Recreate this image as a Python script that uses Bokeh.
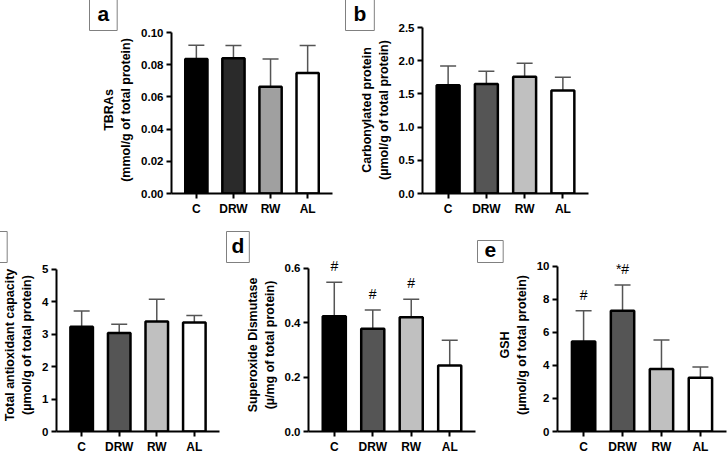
from bokeh.core.properties import value
from bokeh.embed import file_html
from bokeh.layouts import column, row
from bokeh.models import (ColumnDataSource, FactorRange, FixedTicker,
                          PrintfTickFormatter, Range1d, TeeHead, Title, Whisker)
from bokeh.plotting import figure
from bokeh.resources import INLINE

# ---- data -------------------------------------------------------------
groups = ["C", "DRW", "RW", "AL"]

tbars_mean = [0.0835, 0.0840, 0.0663, 0.0748]
tbars_sd = [0.0086, 0.0079, 0.0172, 0.0171]
tbars_ticks = [0.0, 0.02, 0.04, 0.06, 0.08, 0.10]

carb_mean = [1.63, 1.65, 1.76, 1.55]
carb_sd = [0.29, 0.19, 0.20, 0.20]
carb_ticks = [0.0, 0.5, 1.0, 1.5, 2.0, 2.5]

tac_mean = [3.23, 3.04, 3.39, 3.36]
tac_sd = [0.49, 0.27, 0.69, 0.22]
tac_ticks = [0, 1, 2, 3, 4, 5]

sod_mean = [0.424, 0.378, 0.420, 0.243]
sod_sd = [0.125, 0.069, 0.067, 0.093]
sod_ticks = [0.0, 0.2, 0.4, 0.6]
sod_marks = ["#", "#", "#", ""]

gsh_mean = [5.46, 7.32, 3.79, 3.25]
gsh_sd = [1.86, 1.55, 1.75, 0.66]
gsh_ticks = [0, 2, 4, 6, 8, 10]
gsh_marks = ["#", "*#", "", ""]

fills_tbars = ["#000000", "#2a2a2a", "#a0a0a0", "#ffffff"]
fills = ["#000000", "#555555", "#c0c0c0", "#ffffff"]

# ---- styling ----------------------------------------------------------
FONT = "Liberation Sans"
PAD = 0.17          # empty space (in category units) at both ends of the x axis
ERR = "#555555"
TITLE_SHIFT = 6     # the title band starts a few pixels right of the plot area


def panel(letter, ylabel, means, sds, ticks, fmt, colors, width, height,
          frame, top_px, box_left, pad_x=8, marks=None):
    """frame = (left, right, top, bottom) pixel edges of the plot area;
    top_px = pixel row where the highest tick should sit."""
    fl, fr, ft, fb = frame
    n = len(groups)
    # head-room above the top tick so the axis top lands on top_px
    y_end = ticks[-1] * (fb - ft) / (fb - top_px)
    p = figure(width=width, height=height,
               x_range=FactorRange(*groups, range_padding=2 * PAD / n),
               y_range=Range1d(0, y_end),
               min_border_left=fl, min_border_right=width - fr,
               min_border_top=ft, min_border_bottom=height - fb,
               output_backend="svg", toolbar_location=None,
               outline_line_color=None)
    p.grid.visible = False

    src = ColumnDataSource(dict(
        x=groups, mean=means,
        upper=[m + s for m, s in zip(means, sds)],
        fill=colors,
        mark=marks if marks else [""] * n,
    ))

    err = Whisker(base="x", lower="mean", upper="upper", source=src,
                  line_color=ERR, line_width=1.5, lower_head=None,
                  upper_head=TeeHead(size=16, line_color=ERR, line_width=1.5),
                  level="underlay")
    p.add_layout(err)

    p.vbar(x="x", top="mean", width=0.6, source=src, fill_color="fill",
           line_color="black", line_width=2.5)

    if marks:
        p.text(x="x", y="upper", text="mark", source=src, text_align="center",
               text_baseline="bottom", y_offset=-8, text_color="black",
               text_font=value(FONT), text_font_size="14px")

    yax = p.yaxis[0]
    yax.ticker = FixedTicker(ticks=ticks)
    yax.formatter = PrintfTickFormatter(format=fmt)
    yax.bounds = (0, ticks[-1])
    yax.axis_label = ylabel
    yax.axis_label_text_font = FONT
    yax.axis_label_text_font_style = "bold"
    yax.axis_label_text_font_size = "12.5px"
    yax.axis_label_text_color = "black"
    yax.axis_label_text_line_height = 1.2
    yax.axis_label_standoff = 5
    yax.major_label_text_font_size = "11.5px"
    yax.major_label_standoff = 3

    xax = p.xaxis[0]
    xax.major_label_text_font_size = "12px"
    xax.major_label_standoff = 3

    for ax in (xax, yax):
        ax.axis_line_width = 2
        ax.axis_line_color = "black"
        ax.major_tick_line_width = 2
        ax.major_tick_line_color = "black"
        ax.major_tick_out = 5
        ax.major_tick_in = 0
        ax.minor_tick_line_color = None
        ax.major_label_text_font = FONT
        ax.major_label_text_font_style = "bold"
        ax.major_label_text_color = "black"

    # boxed panel letter in the band above the plot area
    p.title = Title(text=letter, align="left",
                    offset=box_left + pad_x - fl - TITLE_SHIFT,
                    vertical_align="bottom", standoff=-8,
                    text_font=FONT, text_font_style="bold",
                    text_font_size="21px", text_color="black",
                    border_line_color="#808080", border_line_width=1,
                    background_fill_color="white",
                    padding=dict(left=pad_x, right=pad_x, top=2, bottom=6))
    return p


TOP_H, BOT_H = 222, 234

pa = panel("a", "TBRAs\n(mmol/g of total protein)", tbars_mean, tbars_sd,
           tbars_ticks, "%.2f", fills_tbars, 336, TOP_H,
           frame=(171, 332, 26, 193), top_px=32, box_left=87)
pb = panel("b", "Carbonylated protein\n(\u00b5mol/g of total protein)",
           carb_mean, carb_sd, carb_ticks, "%.1f", fills, 391, TOP_H,
           frame=(86, 252, 26, 193), top_px=27, box_left=7)
pc = panel("c", "Total antioxidant capacity\n(\u00b5mol/g of total protein)",
           tac_mean, tac_sd, tac_ticks, "%d", fills, 222, BOT_H,
           frame=(54, 219, 36, 210), top_px=47, box_left=-25)
pd_ = panel("d", "Superoxide Dismutase\n(\u00b5/mg of total protein)",
            sod_mean, sod_sd, sod_ticks, "%.1f", fills, 254, BOT_H,
            frame=(86, 253, 36, 210), top_px=46, box_left=5, pad_x=5,
            marks=sod_marks)
pe = panel("e", "GSH\n(\u00b5mol/g of total protein)", gsh_mean, gsh_sd,
           gsh_ticks, "%d", fills, 251, BOT_H,
           frame=(81, 250, 36, 210), top_px=44, box_left=0, pad_x=7,
           marks=gsh_marks)

layout = column(row(pa, pb), row(pc, pd_, pe))

with open("out.html", "w") as f:
    f.write(file_html(layout, INLINE))
